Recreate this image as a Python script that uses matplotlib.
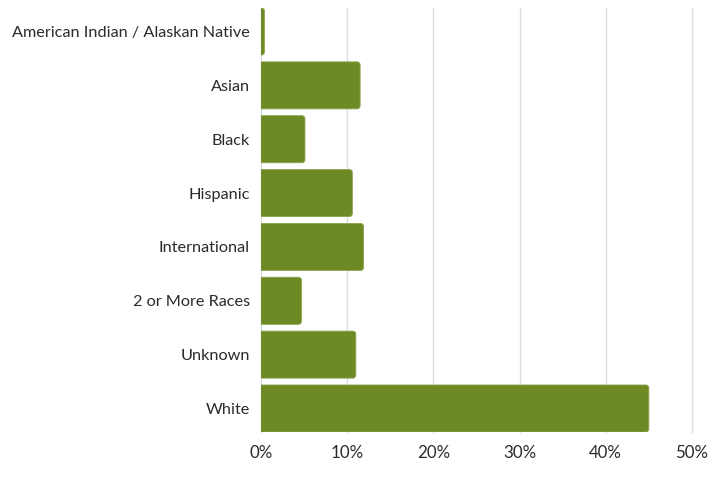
import matplotlib
matplotlib.use("Agg")
import matplotlib.pyplot as plt
from matplotlib.patches import FancyBboxPatch
from matplotlib.ticker import FuncFormatter

categories = ["American Indian / Alaskan Native", "Asian", "Black", "Hispanic",
              "International", "2 or More Races", "Unknown", "White"]
values = [0.4, 11.5, 5.1, 10.6, 11.9, 4.7, 11.0, 45.0]
xticks = [0, 10, 20, 30, 40, 50]

plt.rcParams['font.family'] = ['Lato', 'DejaVu Sans']

fig = plt.figure(figsize=(7.2, 5), dpi=100)
ax = fig.add_axes([0.3625, 0.136, 0.961 - 0.3625, 0.984 - 0.136])

color = "#6d8a25"
n = len(categories)
h = 0.873
ax.set_xlim(0, 50)
ax.set_ylim(n - 1 + h / 2, -h / 2)

# pixel scale for rounding
px_x = 50 / (720 * (0.961 - 0.3625))
px_y = (n - 1 + h) / (500 * (0.984 - 0.136))
for i, v in enumerate(values):
    left = -1.0
    p = FancyBboxPatch((left, i - h / 2), v - left, h,
                       boxstyle=f"round,pad=0,rounding_size={3 * px_x}",
                       mutation_aspect=px_y / px_x,
                       facecolor=color, edgecolor="#8aa34e", linewidth=0.6,
                       zorder=3)
    ax.add_patch(p)

ax.set_yticks(range(n))
ax.set_yticklabels(categories)
ax.set_xticks(xticks)
ax.xaxis.set_major_formatter(FuncFormatter(lambda x, _: f"{int(x)}%"))
for s in ax.spines.values():
    s.set_visible(False)
ax.tick_params(axis='y', length=0, labelsize=11.7, colors="#2b2b2b", pad=8)
ax.tick_params(axis='x', length=0, labelsize=12.2, colors="#2b2b2b", pad=9)
ax.grid(axis='x', color="#dedede", linewidth=1, zorder=0)
for gl in ax.get_xgridlines():
    gl.set_clip_on(False)
ax.set_axisbelow(True)

fig.savefig("out.png", dpi=100)
